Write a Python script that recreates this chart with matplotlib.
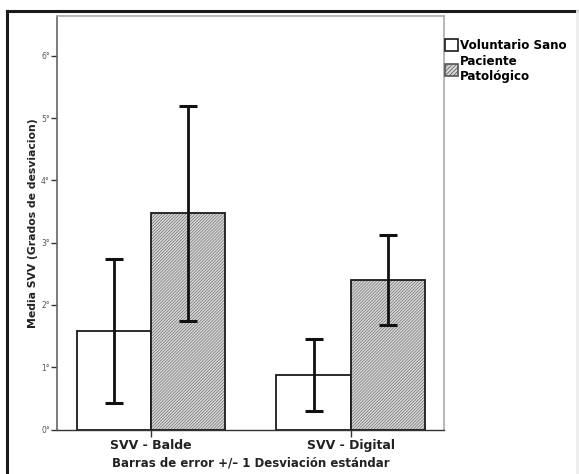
import matplotlib
matplotlib.use("Agg")
import matplotlib.pyplot as plt
import numpy as np
from matplotlib.patches import Rectangle
from matplotlib.lines import Line2D

categories = ["SVV - Balde", "SVV - Digital"]
groups = ["Voluntario Sano", "Paciente\nPatológico"]
means_sano = [1.58, 0.875]
sd_sano = [1.16, 0.575]
means_pat = [3.47, 2.40]
sd_pat = [1.73, 0.72]
yticks = [0, 1, 2, 3, 4, 5, 6]
ytick_labels = ["0°", "1°", "2°", "3°", "4°", "5°", "6°"]

plt.rcParams['hatch.linewidth'] = 0.5

fig = plt.figure(figsize=(5.79, 4.74), dpi=100)
ax = fig.add_axes([56.7/579, 1-429.5/474, (444-56.7)/579, (429.5-16)/474])

x = np.arange(len(categories))
w = 0.372
hatch = '/' * 11

ax.bar(x - w/2, means_sano, width=w, color='white', edgecolor='#1a1a1a', linewidth=1.3, zorder=2)
ax.bar(x + w/2, means_pat, width=w, color='#dadada', edgecolor='#707070', hatch=hatch, linewidth=0, zorder=2)
ax.bar(x + w/2, means_pat, width=w, fill=False, edgecolor='#1a1a1a', linewidth=1.3, zorder=3)

ax.errorbar(x - w/2, means_sano, yerr=sd_sano, fmt='none', ecolor='#111111', elinewidth=2, capsize=6.5, capthick=2.2, zorder=4)
ax.errorbar(x + w/2, means_pat, yerr=sd_pat, fmt='none', ecolor='#111111', elinewidth=2, capsize=6.5, capthick=2.2, zorder=4)

ax.set_xlim(-0.472, 1.467)
ax.set_ylim(0, 6.64)
ax.set_yticks(yticks)
ax.set_yticklabels(ytick_labels, fontsize=5.5, color='#555555')
ax.tick_params(axis='y', length=4, width=1, color='#333333', pad=1)
ax.set_xticks(x)
ax.set_xticklabels(categories, fontsize=9, fontweight='bold', color='#222222')
ax.tick_params(axis='x', length=5, width=1, color='#333333', pad=2)

for s in ['top', 'right']:
    ax.spines[s].set_color('#aaaaaa')
    ax.spines[s].set_linewidth(1.2)
ax.spines['left'].set_color('#666666')
ax.spines['left'].set_linewidth(1.2)
ax.spines['bottom'].set_color('#333333')
ax.spines['bottom'].set_linewidth(1.0)

ax.set_ylabel("Media SVV (Grados de desviacion)", fontsize=7.8, fontweight='bold', color='#222222', labelpad=2)
ax.set_xlabel("Barras de error +/– 1 Desviación estándar", fontsize=8.5, fontweight='bold',
              color='#222222', labelpad=3)

handles = [
    Rectangle((0, 0), 1, 1, facecolor='white', edgecolor='#1a1a1a', linewidth=1.2),
    Rectangle((0, 0), 1, 1, facecolor='#d5d5d5', edgecolor='#555555', hatch='/' * 8, linewidth=1.2),
]
leg = fig.legend(handles, groups, loc='upper left', bbox_to_anchor=(444/579, 1-38/474),
                 frameon=False, prop={'size': 8.6, 'weight': 'bold'}, handlelength=1.05,
                 handleheight=1.2, handletextpad=0.2, labelspacing=0.25, borderaxespad=0, borderpad=0.1)

# outer frame
fig.add_artist(Line2D([7.5/579, 1.0], [1-11/474, 1-11/474], transform=fig.transFigure, color='#1a1a1a', linewidth=2.2))
fig.add_artist(Line2D([7.5/579, 7.5/579], [0, 1-11/474], transform=fig.transFigure, color='#1a1a1a', linewidth=2.2))
fig.add_artist(Line2D([577/579, 577/579], [0, 1-11/474], transform=fig.transFigure, color='#ececec', linewidth=2))

fig.savefig("out.png", dpi=100)
